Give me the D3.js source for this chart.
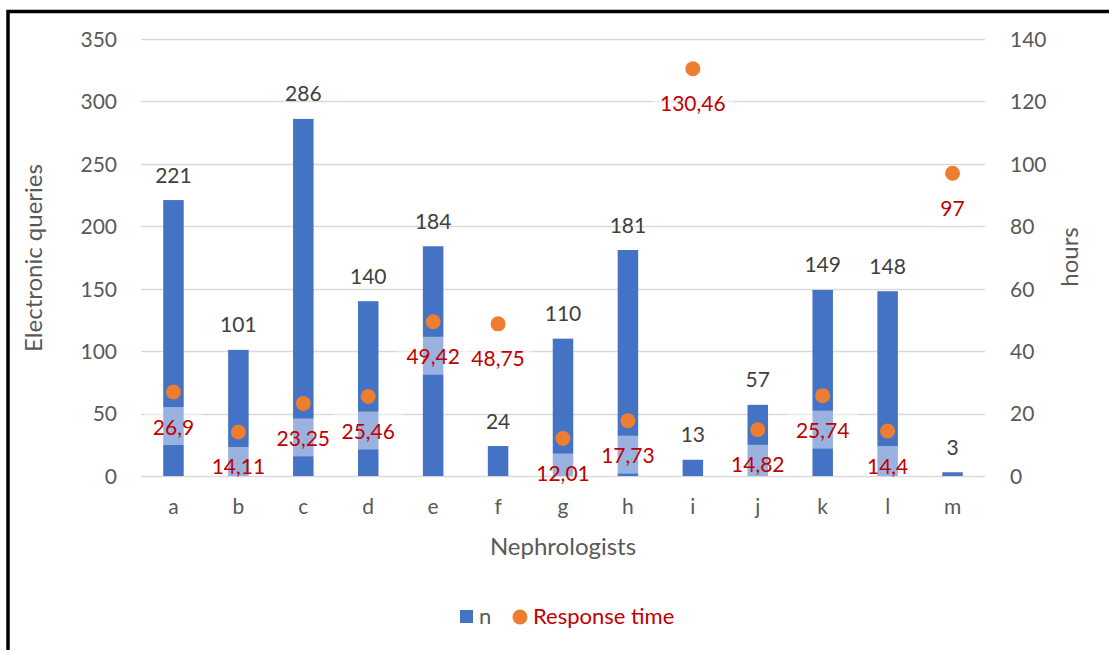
<!DOCTYPE html>
<html><head><meta charset="utf-8">
<script src="https://cdn.jsdelivr.net/npm/d3@7"></script>
<style>body{margin:0;background:#fff}svg{display:block;font-family:Lato,"Open Sans",sans-serif}</style>
</head><body>
<svg id="c" width="1109" height="650"></svg>
<script>
const categories = ["a","b","c","d","e","f","g","h","i","j","k","l","m"];
const nValues = [221,101,286,140,184,24,110,181,13,57,149,148,3];
const responseTime = [26.9,14.11,23.25,25.46,49.42,48.75,12.01,17.73,130.46,14.82,25.74,14.4,97];
const responseLabels = ["26,9","14,11","23,25","25,46","49,42","48,75","12,01","17,73","130,46","14,82","25,74","14,4","97"];
const leftTicks = [0,50,100,150,200,250,300,350];
const rightTicks = [0,20,40,60,80,100,120,140];

const svg = d3.select("#c");
const L = 141, R = 985, T = 39, B = 476;
const x = d3.scaleBand().domain(categories).range([L, R]);
const yL = d3.scaleLinear().domain([0,350]).range([B, T]);
const yR = d3.scaleLinear().domain([0,140]).range([B, T]);
const barW = 20.5;
const FS = 21;

// frame
svg.append("rect").attr("x",8).attr("y",11.5).attr("width",1200).attr("height",700)
  .attr("fill","none").attr("stroke","#000").attr("stroke-width",3.5);

// gridlines
svg.append("g").selectAll("line").data(leftTicks).join("line")
  .attr("x1",L).attr("x2",R).attr("y1",d=>Math.round(yL(d))+0.5).attr("y2",d=>Math.round(yL(d))+0.5)
  .attr("stroke","#d9d9d9").attr("stroke-width",1.3);

// left axis
const axL = d3.axisLeft(yL).tickValues(leftTicks).tickSize(0).tickPadding(0);
const gL = svg.append("g").attr("transform",`translate(117,0)`).call(axL);
gL.select(".domain").remove();
gL.selectAll("text").attr("font-size",FS).attr("fill","#595959").attr("font-family","Lato").attr("dy","0.35em");

// right axis
const axR = d3.axisRight(yR).tickValues(rightTicks).tickSize(0).tickPadding(0);
const gR = svg.append("g").attr("transform",`translate(1010,0)`).call(axR);
gR.select(".domain").remove();
gR.selectAll("text").attr("font-size",FS).attr("fill","#595959").attr("font-family","Lato").attr("dy","0.35em");

// x axis labels
const axB = d3.axisBottom(x).tickSize(0).tickPadding(0);
const gB = svg.append("g").attr("transform",`translate(0,499)`).call(axB);
gB.select(".domain").remove();
gB.selectAll("text").attr("font-size",FS).attr("fill","#595959").attr("font-family","Lato");

// bars
svg.append("g").selectAll("rect").data(nValues).join("rect")
  .attr("x",(d,i)=>x(categories[i])+x.bandwidth()/2-barW/2)
  .attr("width",barW)
  .attr("y",d=>yL(d)).attr("height",d=>B-yL(d))
  .attr("fill","#4472C4");

// bar labels
svg.append("g").selectAll("text").data(nValues).join("text")
  .attr("x",(d,i)=>x(categories[i])+x.bandwidth()/2)
  .attr("y",d=>yL(d)-17.5)
  .attr("text-anchor","middle").attr("font-size",FS).attr("fill","#404040")
  .text(d=>d);

// response time labels with translucent background
const lg = svg.append("g");
responseTime.forEach((v,i)=>{
  const cx = x(categories[i])+x.bandwidth()/2;
  const cy = yR(v);
  const t = lg.append("text").attr("x",cx).attr("y",cy+42.5)
    .attr("text-anchor","middle").attr("font-size",FS).attr("fill","#C00000")
    .text(responseLabels[i]);
  const w = t.node().getComputedTextLength();
  const top = cy+15, bot = Math.min(cy+53, B);
  lg.insert("rect","text").attr("x",cx-w/2-8).attr("width",w+16)
    .attr("y",top).attr("height",bot-top).attr("fill","#fff").attr("fill-opacity",0.46);
});

// points
svg.append("g").selectAll("circle").data(responseTime).join("circle")
  .attr("cx",(d,i)=>x(categories[i])+x.bandwidth()/2)
  .attr("cy",d=>yR(d)).attr("r",7.5).attr("fill","#ED7D31");

// axis titles
svg.append("text").attr("transform","translate(42,258) rotate(-90)")
  .attr("text-anchor","middle").attr("font-size",24).attr("fill","#595959").text("Electronic queries");
svg.append("text").attr("transform","translate(1078,257) rotate(-90)")
  .attr("text-anchor","middle").attr("font-size",24).attr("fill","#595959").text("hours");
svg.append("text").attr("x",563).attr("y",555)
  .attr("text-anchor","middle").attr("font-size",24).attr("fill","#595959").text("Nephrologists");

// legend
svg.append("rect").attr("x",460).attr("y",610).attr("width",13).attr("height",13).attr("fill","#4472C4");
svg.append("text").attr("x",479).attr("y",624).attr("font-size",22).attr("fill","#595959").text("n");
svg.append("circle").attr("cx",520).attr("cy",617).attr("r",7.5).attr("fill","#ED7D31");
svg.append("text").attr("x",533).attr("y",624).attr("font-size",22).attr("fill","#C00000").text("Response time");
</script>
</body></html>
